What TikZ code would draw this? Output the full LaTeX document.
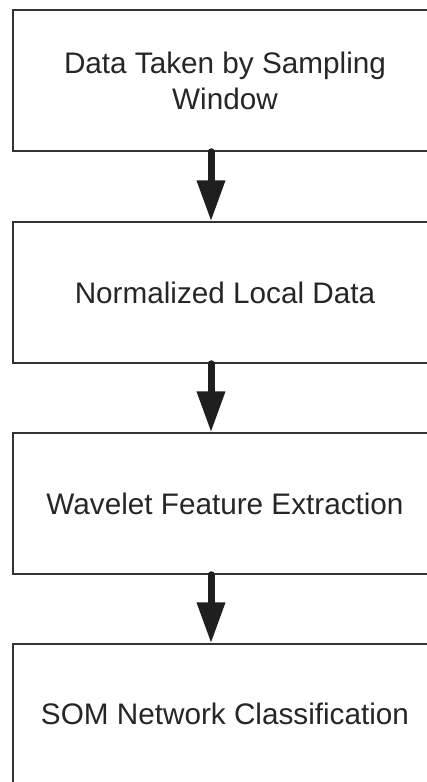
\documentclass[tikz,border=0pt]{standalone}
\usepackage{fontspec}
\setmainfont{Liberation Sans}
\usetikzlibrary{arrows.meta}
\begin{document}
\begin{tikzpicture}[x=1pt,y=-1pt,
  stepbox/.style={draw=black!80, line width=1.5pt, minimum width=424pt, inner sep=0pt,
    align=center, text=black!85, font=\fontsize{29.7pt}{36pt}\selectfont},
  flowarrow/.style={draw=black!88, line width=7pt, line cap=round,
    -{Triangle[width=27pt,length=41pt]}, fill=black!88}]
\useasboundingbox (0,0) rectangle (427,782);
\clip (0,0) rectangle (427,782);
\node[stepbox, minimum height=141pt] (b1) at (225,80.5) {Data Taken by Sampling\\Window};
\node[stepbox, minimum height=141pt] (b2) at (225,292.5) {Normalized Local Data};
\node[stepbox, minimum height=141pt] (b3) at (225,503.5) {Wavelet Feature Extraction};
\node[stepbox, minimum height=140pt] (b4) at (225,714) {SOM Network Classification};
\coordinate (ax) at (211,0);
\draw[flowarrow] (b1.south -| ax) -- (b2.north -| ax);
\draw[flowarrow] (b2.south -| ax) -- (b3.north -| ax);
\draw[flowarrow] (b3.south -| ax) -- (b4.north -| ax);
\end{tikzpicture}
\end{document}
